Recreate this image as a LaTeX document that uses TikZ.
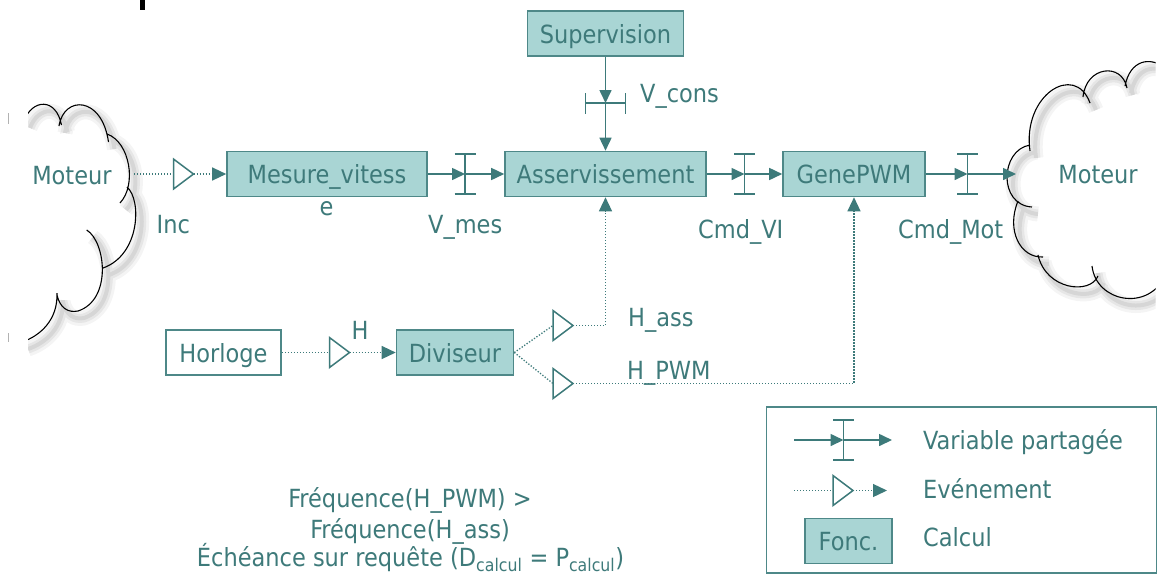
\documentclass[tikz,border=0pt]{standalone}
\usepackage{fontspec}
\setmainfont{DejaVu Sans Condensed}
\usetikzlibrary{arrows.meta}

\definecolor{tealtext}{RGB}{62,122,122}
\definecolor{tealline}{RGB}{61,122,122}
\definecolor{tealfill}{RGB}{169,213,212}
\definecolor{tealedge}{RGB}{78,136,136}

\tikzset{
  % shared variable marker: a bar with two caps
  shvar/.pic={
    \draw[tealline, line width=1.8pt]
      (0,-20) -- (0,20) (-10.5,-20) -- (10.5,-20) (-10.5,20) -- (10.5,20);
    \coordinate (-c) at (0,0);
  },
  % event marker: open triangle
  evtri/.pic={
    \draw[tealline, line width=1.5pt, fill=white] (0,-15) -- (20,0) -- (0,15) -- cycle;
    \coordinate (-in) at (0,0);
    \coordinate (-out) at (20,0);
  },
  leftcloud/.style={insert path={
    (24,121) .. controls (32,99) and (56,97) .. (61.5,125)
    (59,126) .. controls (64,95) and (102,96) .. (108.5,142)
    (107,134) .. controls (130,142) and (137,185) .. (120,203)
    (127,187) .. controls (142,200) and (140,255) .. (103,268)
    (86.7,230) .. controls (106,242) and (112,300) .. (78,311)
      .. controls (68,313) and (60,308) .. (57,295)
    (57,293) .. controls (58,320) and (40,336) .. (22,342)
  }},
  rightcloud/.style={insert path={
    (1030,151) .. controls (1022,95) and (1075,62) .. (1090,103)
    (1083,97) .. controls (1086,66) and (1122,62) .. (1127,88)
    (1125,86) .. controls (1130,60) and (1150,56) .. (1165,68)
    (1030,145) .. controls (1000,150) and (998,205) .. (1032,207)
    (1018,201) .. controls (1006,230) and (1020,258) .. (1043,257)
    (1038,255) .. controls (1046,290) and (1090,295) .. (1098,276)
    (1092,266) .. controls (1096,302) and (1148,312) .. (1165,276)
  }},
  cloudshadow/.style={black, opacity=#1},
}

\begin{document}
\begin{tikzpicture}[x=1pt, y=-1pt,
  every node/.style={font=\fontsize{25}{31}\selectfont, text=tealtext, inner sep=0pt},
  calc/.style={draw=tealedge, line width=1.6pt, fill=tealfill, minimum height=45pt,
               text height=19pt, text depth=0pt},
  ext/.style={draw=tealedge, line width=1.6pt, fill=white, minimum height=45pt,
              text height=19pt, text depth=0pt},
  lbl/.style={anchor=base west},
  varline/.style={draw=tealline, line width=1.6pt, -{Triangle[length=13pt,width=12pt]}},
  evline/.style={draw=tealline, line width=1.3pt, dash pattern=on 1.3pt off 1.7pt},
  evarrow/.style={evline, -{Triangle[length=14pt,width=13pt]}},
]
\useasboundingbox (0,0) rectangle (1166,574);
\clip (0,0) rectangle (1166,574);

% fragments at the page edges
\fill[black] (139.5,0) rectangle (144.5,9.5);
\draw[gray!60, line width=1pt] (8,113) -- (8,124) (8,333) -- (8,342);

% left cloud (motor)
\begin{scope}
  \clip (28,0) rectangle (400,574);
  \begin{scope}[shift={(6,7)}]
    \draw[cloudshadow=0.045, line width=15pt, leftcloud];
    \draw[cloudshadow=0.06, line width=9pt, leftcloud];
    \draw[cloudshadow=0.07, line width=4pt, leftcloud];
  \end{scope}
  \draw[black, line width=1.1pt, leftcloud];
\end{scope}
\node[anchor=base] (motL) at (72,184) {Moteur};
\coordinate (cL) at (134,174);

% right cloud (motor)
\begin{scope}
  \clip (900,0) rectangle (1155.5,574);
  \begin{scope}[shift={(6,7)}]
    \draw[cloudshadow=0.045, line width=15pt, rightcloud];
    \draw[cloudshadow=0.06, line width=9pt, rightcloud];
    \draw[cloudshadow=0.07, line width=4pt, rightcloud];
  \end{scope}
  \draw[black, line width=1.1pt, rightcloud];
\end{scope}
\node[anchor=base] (motR) at (1098,183.5) {Moteur};
\coordinate (cR) at (1016,174);

% function blocks
\node[calc, minimum width=156pt] (sup) at (605.5,33.5) {Supervision};
\node[calc, minimum width=201pt] (asv) at (605.5,174) {Asservissement};
\node[calc, minimum width=200pt] (mes) at (327,174) {Mesure\_vitess};
\node[anchor=base] (mesE) at (326.5,215.5) {e};
\node[calc, minimum width=142pt] (gen) at (854,174) {GenePWM};
\node[ext, minimum width=115pt] (hor) at (223.5,352.5) {Horloge};
\node[calc, minimum width=117pt] (div) at (455,352.5) {Diviseur};

% markers
\pic (ti) at (173.5,174) {evtri};
\pic (v1) at (465,174) {shvar};
\pic (v2) at (744.5,174) {shvar};
\pic (v3) at (967.5,174) {shvar};
\pic[rotate=90] (vc) at (605.5,103) {shvar};
\pic (th) at (329.5,352.5) {evtri};
\pic (ta) at (553,325.5) {evtri};
\pic (tp) at (553,383.5) {evtri};

% connectors
\draw[evline] (cL) -- (ti-in);
\draw[evarrow] (ti-out) -- (mes.west);
\draw[varline] (mes.east) -- (v1-c);
\draw[varline] (v1-c) -- (asv.west);
\draw[varline] (asv.east) -- (v2-c);
\draw[varline] (v2-c) -- (gen.west);
\draw[varline] (gen.east) -- (v3-c);
\draw[varline] (v3-c) -- (cR);
\draw[varline] (sup.south) -- (vc-c);
\draw[varline] (vc-c) -- (asv.north);
\draw[evline] (hor.east) -- (th-in);
\draw[evarrow] (th-out) -- (div.west);
\draw[evline] (div.east) -- (ta-in);
\draw[evline] (div.east) -- (tp-in);
\draw[evarrow] (ta-out) -| (asv.south);
\draw[evarrow] (tp-out) -| (gen.south);

% labels
\node[lbl] (lInc) at (156.5,233) {Inc};
\node[lbl] (lVmes) at (428,233) {V\_mes};
\node[lbl] (lCmdVI) at (698,238.5) {Cmd\_VI};
\node[lbl] (lCmdMot) at (898,238.5) {Cmd\_Mot};
\node[lbl] (lVcons) at (640,102.5) {V\_cons};
\node[lbl] (lH) at (351.5,339) {H};
\node[lbl] (lHass) at (628,326) {H\_ass};
\node[lbl] (lHpwm) at (627,379) {H\_PWM};

% legend
\node[draw=tealedge, line width=1.6pt, minimum width=390pt, minimum height=166pt] (leg) at (961.5,490) {};
\coordinate (lva) at (794,440);
\pic (lv) at (843.5,440) {shvar};
\coordinate (lvb) at (892,440);
\draw[varline] (lva) -- (lv-c);
\draw[varline] (lv-c) -- (lvb);
\node[lbl] (lgVar) at (923,449) {Variable partagée};
\coordinate (lea) at (794,490.5);
\pic (le) at (833,490.5) {evtri};
\coordinate (leb) at (887,490.5);
\draw[evline] (lea) -- (le-in);
\draw[evarrow] (le-out) -- (leb);
\node[lbl] (lgEvt) at (923,498.5) {Evénement};
\node[calc, minimum width=87pt] (fonc) at (848.5,541) {Fonc.};
\node[lbl] (lgCalc) at (923,546.5) {Calcul};

% notes
\node[anchor=base] (f1) at (410,507.3) {Fréquence(H\_PWM) >};
\node[anchor=base] (f2) at (410,538.3) {Fréquence(H\_ass)};
\node[anchor=base] (f3) at (410.5,566.5) {Échéance sur requête (D\textsubscript{calcul} = P\textsubscript{calcul})};
\end{tikzpicture}
\end{document}
